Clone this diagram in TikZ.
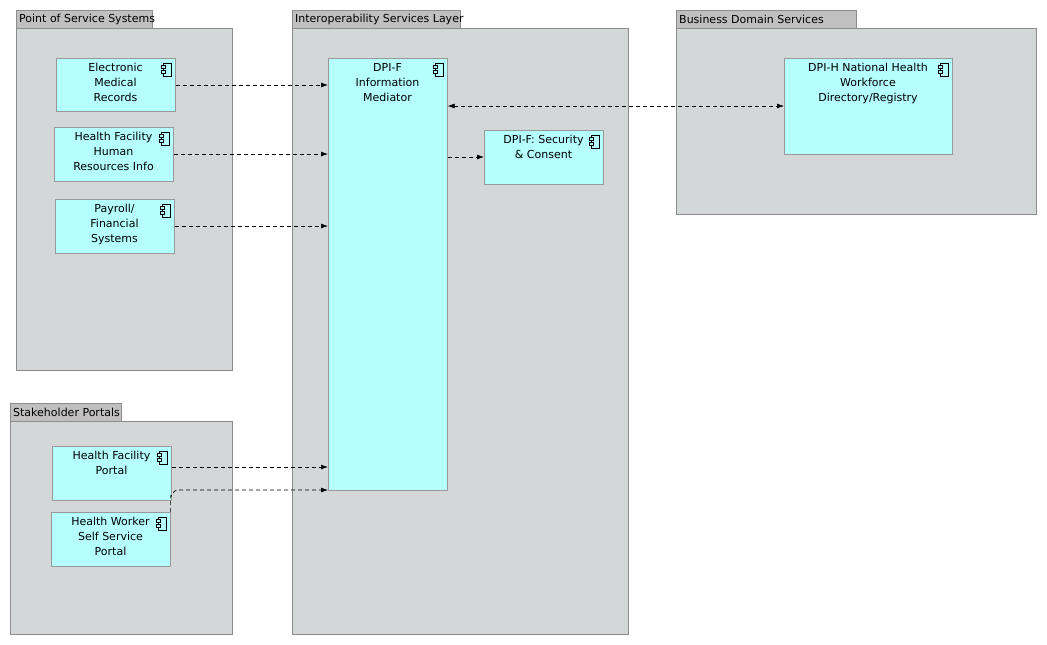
\documentclass[tikz,border=0pt]{standalone}
\usepackage{fontspec}
\setmainfont{DejaVu Sans}
\usetikzlibrary{arrows.meta}
\definecolor{cfill}{HTML}{B5FFFF}
\definecolor{gfill}{HTML}{D3D7D7}
\definecolor{tfill}{HTML}{C0C0C0}
\begin{document}
\begin{tikzpicture}[x=1pt,y=-1pt,font=\fontsize{11}{15}\selectfont,
  grp/.style={draw=black!45,fill=gfill,line width=0.6pt},
  tab/.style={draw=black!45,fill=tfill,line width=0.6pt},
  comp/.style={draw=black!40,fill=cfill,line width=0.6pt,inner sep=0pt},
  lbl/.style={anchor=north,align=center,inner sep=0pt},
  dep/.style={dashed,dash pattern=on 4pt off 3pt,line width=0.7pt,-{Latex[length=7pt,width=5pt]}}]
\useasboundingbox (0,0) rectangle (1047,645);
\newcommand{\grpbox}[7]{% name tabx2 x1 y1 x2 y2 title
  \draw[tab] (#3,#4-18) rectangle (#2,#4);
  \node[anchor=west,inner sep=0pt] at (#3+3,#4-9) {#7};
  \node[grp,anchor=north west,minimum width=#5-#3,minimum height=#6-#4,inner sep=0pt] (#1) at (#3,#4) {};}
\newcommand{\cmp}[6]{% name x1 y1 x2 y2 text
  \node[comp,anchor=north west,minimum width=#4-#2,minimum height=#5-#3] (#1) at (#2,#3) {};
  \node[lbl] (#1t) at ({(#2+#4)/2},#3+5) {#6};
  \begin{scope}[shift={(#4-14,#3+5)}]
   \draw[line width=0.6pt] (2,0) rectangle (10,13);
   \draw[line width=0.6pt,fill=cfill] (0,2.5) rectangle (4,5);
   \draw[line width=0.6pt,fill=cfill] (0,7.5) rectangle (4,10);
  \end{scope}}
\grpbox{pos}{152}{16}{28}{232}{370}{Point of Service Systems}
\grpbox{sp}{121}{10}{421}{232}{634}{Stakeholder Portals}
\grpbox{isl}{460}{292}{28}{628}{634}{Interoperability Services Layer}
\grpbox{bds}{856}{676}{28}{1036}{214}{Business Domain Services}
\cmp{emr}{56}{58}{175}{111}{Electronic\\Medical\\Records}
\cmp{hfhr}{54}{127}{173}{181}{Health Facility\\Human\\Resources Info}
\cmp{pay}{55}{199}{174}{253}{Payroll/\\Financial\\Systems}
\cmp{im}{328}{58}{447}{490}{DPI-F\\Information\\Mediator}
\cmp{sec}{484}{130}{603}{184}{DPI-F: Security\\\& Consent}
\cmp{wf}{784}{58}{952}{154}{DPI-H National Health\\Workforce\\Directory/Registry}
\cmp{hfp}{52}{446}{171}{500}{Health Facility\\Portal}
\cmp{hwp}{51}{512}{170}{566}{Health Worker\\Self Service\\Portal}
\coordinate (y1) at (0,85);
\coordinate (y2) at (0,154);
\coordinate (y3) at (0,226);
\coordinate (y4) at (0,157);
\coordinate (y5) at (0,106);
\coordinate (y6) at (0,467);
\coordinate (y7) at (0,490);
\draw[dep] (emr.east |- y1) -- (im.west |- y1);
\draw[dep] (hfhr.east |- y2) -- (im.west |- y2);
\draw[dep] (pay.east |- y3) -- (im.west |- y3);
\draw[dep] (im.east |- y4) -- (sec.west |- y4);
\draw[dep,{Latex[length=7pt,width=5pt]}-{Latex[length=7pt,width=5pt]}] (im.east |- y5) -- (wf.west |- y5);
\draw[dep] (hfp.east |- y6) -- (im.west |- y6);
\draw[dep] (hwp.north east) -- ++(0,-16) to[out=-90,in=180] ++(6,-6) -- (im.west |- y7);
\end{tikzpicture}
\end{document}
